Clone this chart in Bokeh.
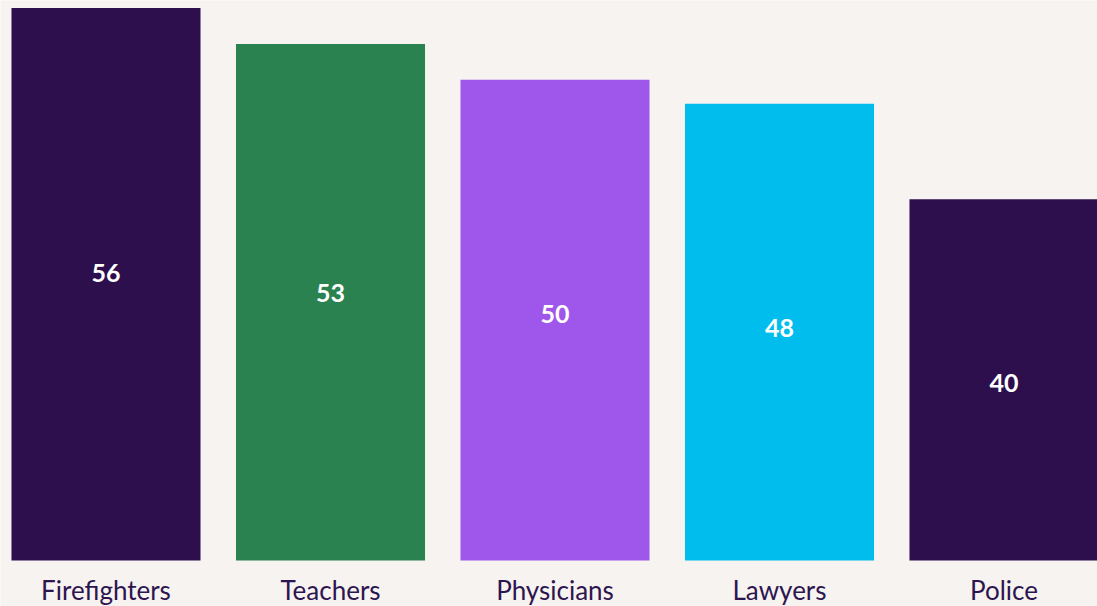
from bokeh.plotting import figure
from bokeh.models import ColumnDataSource, Range1d
from bokeh.core.properties import value
from bokeh.embed import file_html
from bokeh.resources import INLINE

categories = ["Firefighters", "Teachers", "Physicians", "Lawyers", "Police"]
values = [56, 53, 50, 48, 40]
colors = ["#2d0f4e", "#2b8251", "#9e57ea", "#00bdee", "#2d0f4e"]

BG = "#f7f3f0"
TEXT = "#2d1650"
BASE = 9.79

xs = list(range(len(categories)))
label_y = [0.575 * v + 1.67 for v in values]

src = ColumnDataSource(dict(
    x=xs, top=values, color=colors, cat=categories,
    label=[str(v) for v in values], ly=label_y, base=[BASE] * len(xs),
))

p = figure(
    width=1097, height=606,
    x_range=Range1d(-0.4699, 4.4165),
    y_range=Range1d(5.94, 56.63),
    output_backend="svg", toolbar_location=None,
    min_border_left=0, min_border_right=0, min_border_top=0, min_border_bottom=0,
    background_fill_color=BG, border_fill_color=BG,
)
p.outline_line_color = None
p.grid.visible = False
p.axis.visible = False

p.vbar(x="x", top="top", bottom=BASE, width=0.842, color="color", line_color=None, source=src)
p.text(x="x", y="ly", text="label", source=src,
       text_align="center", text_baseline="middle",
       text_color="white", text_font=value("Lato"),
       text_font_size="25px", text_font_style="bold")
p.text(x="x", y="base", text="cat", source=src, y_offset=30,
       text_align="center", text_baseline="alphabetic",
       text_color=TEXT, text_font=value("Lato"),
       text_font_size="26px")

open("out.html", "w").write(file_html(p, INLINE))
